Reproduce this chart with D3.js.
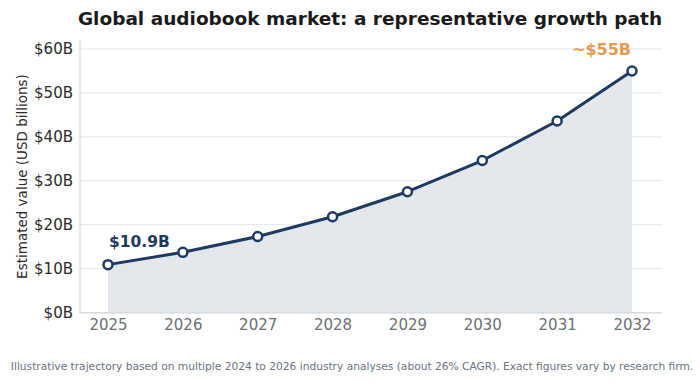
<!DOCTYPE html>
<html><head><meta charset="utf-8">
<script src="https://cdn.jsdelivr.net/npm/d3@7"></script>
<style>body{margin:0;background:#fff;} svg{display:block;font-family:"DejaVu Sans",sans-serif;}</style>
</head><body>
<svg id="c" width="700" height="385"></svg>
<script>
const years = [2025, 2026, 2027, 2028, 2029, 2030, 2031, 2032];
const values = [10.9, 13.7, 17.3, 21.8, 27.5, 34.6, 43.6, 55.0];
const yTicks = [0, 10, 20, 30, 40, 50, 60];
const startLabel = "$10.9B";
const endLabel = "~$55B";

const svg = d3.select("#c");
const L = 80, R = 662, T = 40, B = 313;
const x = d3.scaleLinear().domain([2025, 2032]).range([108, 632]);
const y = d3.scaleLinear().domain([0, 60]).range([312.5, 49]);
const data = years.map((yr, i) => ({yr, v: values[i]}));

// grid
svg.append("g").selectAll("line").data(yTicks).join("line")
  .attr("x1", L).attr("x2", R).attr("y1", d => y(d)).attr("y2", d => y(d))
  .attr("stroke", "#e3e6ea").attr("stroke-width", 1);

// area
svg.append("path").datum(data)
  .attr("d", d3.area().x(d => x(d.yr)).y0(y(0)).y1(d => y(d.v)))
  .attr("fill", "#e4e7ec");

// axes
const ya = svg.append("g").attr("transform", `translate(${L},0)`)
  .call(d3.axisLeft(y).tickValues(yTicks).tickFormat(d => `$${d}B`).tickSize(0).tickPadding(7));
ya.select(".domain").remove();
ya.selectAll("text").attr("font-size", 15).attr("fill", "#2b2b2b").attr("font-family", "DejaVu Sans");

const xa = svg.append("g").attr("transform", `translate(0,${B})`)
  .call(d3.axisBottom(x).tickValues(years).tickFormat(d3.format("d")).tickSize(0).tickPadding(6));
xa.select(".domain").remove();
xa.selectAll("text").attr("font-size", 15).attr("fill", "#6b6f76").attr("font-family", "DejaVu Sans");

// spines
svg.append("line").attr("x1", L).attr("x2", L).attr("y1", T).attr("y2", B).attr("stroke", "#cfd4db");
svg.append("line").attr("x1", L).attr("x2", R).attr("y1", B).attr("y2", B).attr("stroke", "#cfd4db");

// line
svg.append("path").datum(data)
  .attr("d", d3.line().x(d => x(d.yr)).y(d => y(d.v)))
  .attr("fill", "none").attr("stroke", "#1f3a5f").attr("stroke-width", 3).attr("stroke-linejoin", "round");

svg.append("g").selectAll("circle").data(data).join("circle")
  .attr("cx", d => x(d.yr)).attr("cy", d => y(d.v)).attr("r", 4.5)
  .attr("fill", "#fff").attr("stroke", "#1f3a5f").attr("stroke-width", 2.5);

// annotations
svg.append("text").attr("x", x(years[0]) + 1).attr("y", y(values[0]) - 18)
  .attr("font-size", 15.5).attr("font-weight", "bold").attr("fill", "#1f3a5f").text(startLabel);
svg.append("text").attr("x", x(years[years.length-1]) - 1).attr("y", y(values[values.length-1]) - 16)
  .attr("text-anchor", "end").attr("font-size", 16).attr("font-weight", "bold").attr("fill", "#e39b4f").text(endLabel);

// y label
svg.append("text").attr("transform", `translate(27,${(T+B)/2}) rotate(-90)`)
  .attr("text-anchor", "middle").attr("font-size", 13.5).attr("fill", "#2b2b2b").text("Estimated value (USD billions)");

// title
svg.append("text").attr("x", 370).attr("y", 25).attr("text-anchor", "middle")
  .attr("font-size", 18.5).attr("font-weight", "bold").attr("fill", "#1a1a1a")
  .text("Global audiobook market: a representative growth path");

// footer
svg.append("text").attr("x", 352).attr("y", 370).attr("text-anchor", "middle")
  .attr("font-size", 10.65).attr("fill", "#6b7280")
  .text("Illustrative trajectory based on multiple 2024 to 2026 industry analyses (about 26% CAGR). Exact figures vary by research firm.");
</script>
</body></html>
